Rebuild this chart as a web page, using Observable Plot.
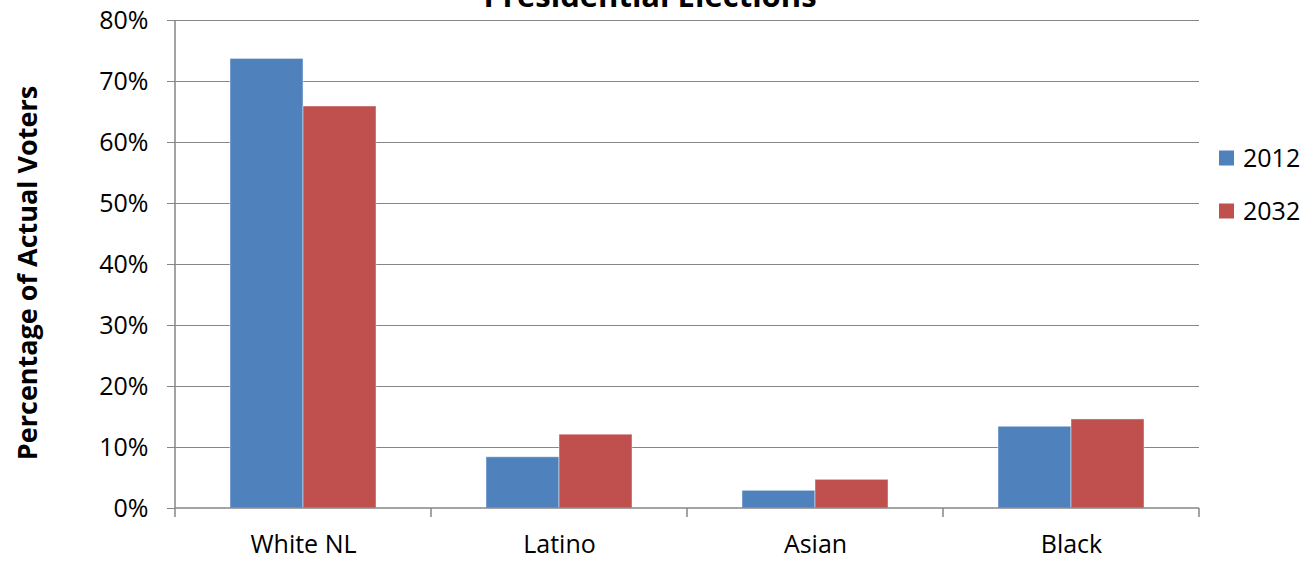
<!DOCTYPE html>
<html>
<head>
<meta charset="utf-8">
<script src="https://cdn.jsdelivr.net/npm/d3@7"></script>
<script src="https://cdn.jsdelivr.net/npm/@observablehq/plot@0.6"></script>
<style>
  html, body { margin: 0; padding: 0; background: #fff; }
  #chart { width: 1315px; height: 561px; overflow: hidden; }
</style>
</head>
<body>
<div id="chart"></div>
<script>
const title = "Presidential Elections";
const yTitle = "Percentage of Actual Voters";
const categories = ["White NL", "Latino", "Asian", "Black"];
const years = ["2012", "2032"];
const values2012 = [0.737, 0.084, 0.029, 0.134];
const values2032 = [0.659, 0.121, 0.047, 0.146];
const yTicks = [0, 0.1, 0.2, 0.3, 0.4, 0.5, 0.6, 0.7, 0.8];
const colors = ["#4F81BD", "#C0504D"];

const seriesValues = [values2012, values2032];
const data = categories.flatMap((c, i) =>
  years.map((yr, j) => ({category: c, year: yr, value: seriesValues[j][i]}))
);

const font = "'Open Sans', sans-serif";
const gray = "#868686";

const plot = Plot.plot({
  width: 1315,
  height: 561,
  marginLeft: 173,
  marginRight: 115,
  marginTop: 20,
  marginBottom: 53,
  style: {fontFamily: font, fontSize: "25px", color: "#000", background: "#fff", overflow: "hidden"},
  fx: {domain: categories, padding: 0, axis: null, label: null},
  x: {domain: years, paddingInner: 0, paddingOuter: 0.75, axis: null},
  y: {domain: [0, 0.8], axis: null},
  color: {domain: years, range: colors},
  marks: [
    Plot.gridY(yTicks.filter(d => d > 0), {stroke: gray, strokeOpacity: 1, strokeWidth: 1}),
    Plot.barY(data, {fx: "category", x: "year", y: "value", fill: "year", stroke: "#fff", strokeOpacity: 0.45, strokeWidth: 1}),
    Plot.axisY({ticks: yTicks, tickFormat: d3.format(".0%"), tickSize: 8, tickPadding: 19, stroke: gray, strokeOpacity: 1, fill: "#000", label: null, fontSize: 25}),
    Plot.axisFx({anchor: "bottom", tickSize: 0, tickPadding: 27, fill: "#000", label: null, fontSize: 25})
  ]
});

document.getElementById("chart").appendChild(plot);

// axis lines and category boundary ticks from the library's scales
const svg = d3.select(plot);
const fx = plot.scale("fx");
const ys = plot.scale("y");
const y0 = ys.apply(0);
const yTop = ys.apply(0.8);
const xL = fx.apply(categories[0]);
const xR = fx.apply(categories[categories.length - 1]) + fx.bandwidth;
const g = svg.append("g").attr("stroke", gray).attr("stroke-width", 1.5);
g.append("line").attr("x1", xL).attr("x2", xL).attr("y1", yTop).attr("y2", y0);
g.append("line").attr("x1", xL).attr("x2", xR).attr("y1", y0).attr("y2", y0);
const bounds = categories.map(c => fx.apply(c)).concat([xR]);
g.selectAll(".bt").data(bounds).join("line")
  .attr("x1", d => d).attr("x2", d => d).attr("y1", y0).attr("y2", y0 + 9);

// title (clipped at top like the reference)
svg.append("text")
  .attr("x", 650).attr("y", 7)
  .attr("text-anchor", "middle")
  .attr("font-family", font).attr("font-weight", "bold").attr("font-size", 31)
  .attr("fill", "#000")
  .text(title);

// y-axis title
svg.append("text")
  .attr("transform", "translate(37,273) rotate(-90)")
  .attr("text-anchor", "middle")
  .attr("font-family", font).attr("font-weight", "bold").attr("font-size", 27)
  .attr("fill", "#000")
  .text(yTitle);

// legend
const legendY = [158, 211];
const lg = svg.append("g");
years.forEach((yr, i) => {
  lg.append("rect").attr("x", 1219).attr("y", legendY[i] - 7.5).attr("width", 15).attr("height", 15).attr("fill", colors[i]);
  lg.append("text").attr("x", 1243).attr("y", legendY[i]).attr("dy", "0.35em")
    .attr("text-anchor", "start")
    .attr("font-family", font).attr("font-size", 25).attr("fill", "#000").text(yr);
});
</script>
</body>
</html>
